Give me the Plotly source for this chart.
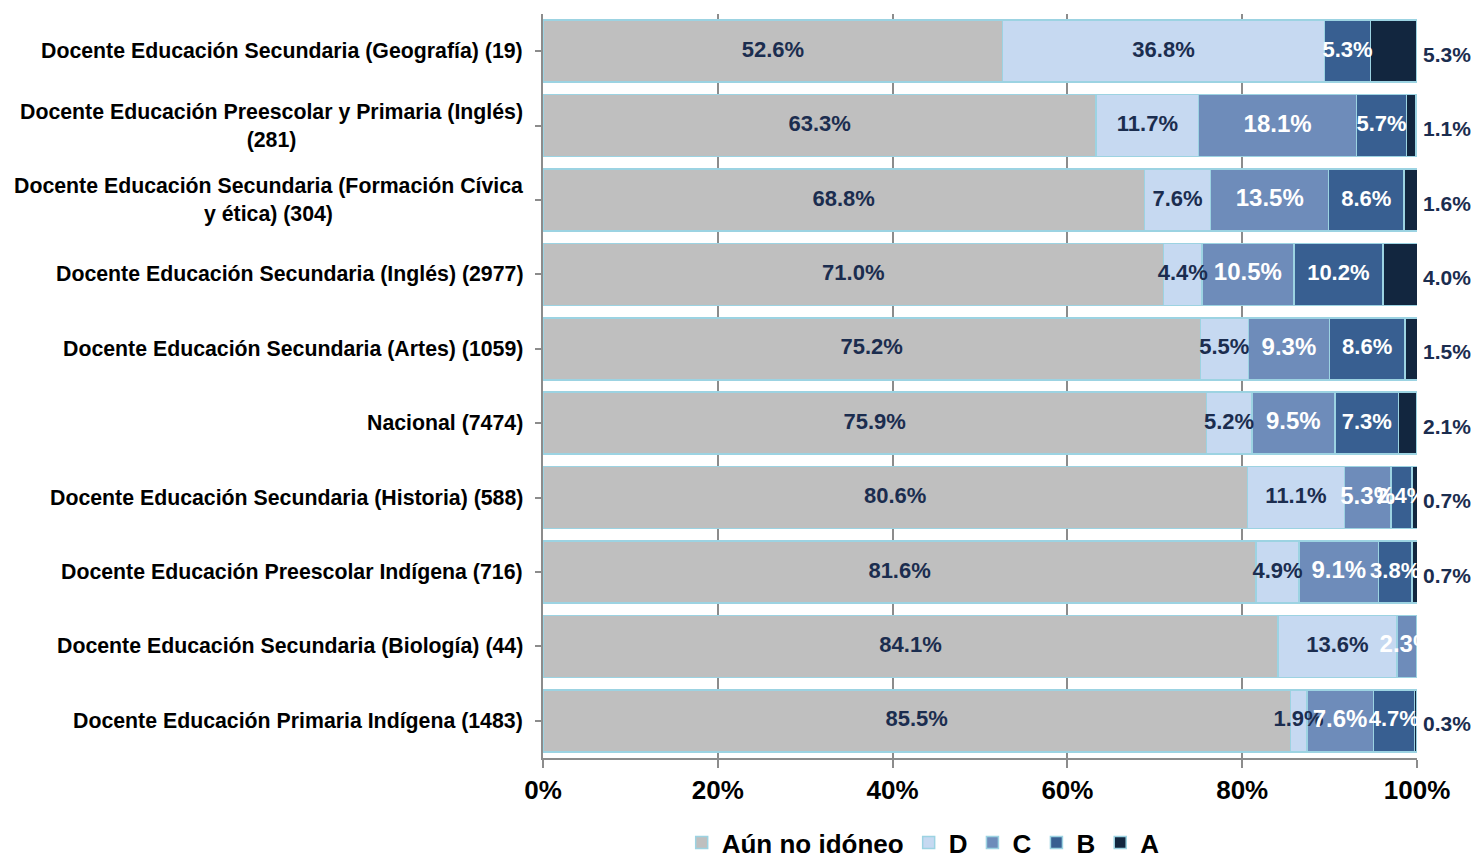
import plotly.graph_objects as go

categories = [
    "Docente Educación Secundaria (Geografía) (19)",
    "Docente Educación Preescolar y Primaria (Inglés)<br>(281)",
    "Docente Educación Secundaria (Formación Cívica<br>y ética) (304)",
    "Docente Educación Secundaria (Inglés) (2977)",
    "Docente Educación Secundaria (Artes) (1059)",
    "Nacional (7474)",
    "Docente Educación Secundaria (Historia) (588)",
    "Docente Educación Preescolar Indígena (716)",
    "Docente Educación Secundaria (Biología) (44)",
    "Docente Educación Primaria Indígena (1483)",
]
aun_no = [52.6, 63.3, 68.8, 71.0, 75.2, 75.9, 80.6, 81.6, 84.1, 85.5]
nivel_d = [36.8, 11.7, 7.6, 4.4, 5.5, 5.2, 11.1, 4.9, 13.6, 1.9]
nivel_c = [0.0, 18.1, 13.5, 10.5, 9.3, 9.5, 5.3, 9.1, 2.3, 7.6]
nivel_b = [5.3, 5.7, 8.6, 10.2, 8.6, 7.3, 2.4, 3.8, 0.0, 4.7]
nivel_a = [5.3, 1.1, 1.6, 4.0, 1.5, 2.1, 0.7, 0.7, 0.0, 0.3]
x_ticks = [0, 20, 40, 60, 80, 100]

FONT = "Liberation Sans, Arial, sans-serif"
DARK = "#1b2d4f"

# name, values, fill colour, label colour, label size
series = [
    ("Aún no idóneo", aun_no, "#bfbfbf", DARK, 22),
    ("D", nivel_d, "#c6d9f1", DARK, 22),
    ("C", nivel_c, "#6e8cba", "#ffffff", 24),
    ("B", nivel_b, "#385f91", "#ffffff", 22),
    ("A", nivel_a, "#12263f", DARK, 22),
]

ids = list(range(len(categories)))
fig = go.Figure()
base = [0.0] * len(categories)
for name, vals, color, tcolor, tsize in series:
    xs = [v if v > 0 else None for v in vals]
    fig.add_trace(go.Bar(
        name=name, y=ids, x=xs, orientation="h",
        marker=dict(color=color, line=dict(color="#9cd3e2", width=1.5)),
        hoverinfo="skip",
    ))
    if name != "A":
        mids = [b + v / 2 for b, v in zip(base, vals)]
        txt = [f"{v:.1f}%" if v > 0 else "" for v in vals]
        fig.add_trace(go.Scatter(
            x=mids, y=ids, mode="text", text=txt, textposition="middle center",
            textfont=dict(family=FONT, size=tsize, color=tcolor, weight="bold"),
            showlegend=False, hoverinfo="skip", cliponaxis=False,
        ))
    base = [b + v for b, v in zip(base, vals)]

# A labels outside, to the right of the 100% edge
for i, v in enumerate(nivel_a):
    if v > 0:
        fig.add_annotation(
            x=1.0, y=i, xref="paper", yref="y", text=f"{v:.1f}%", showarrow=False,
            xanchor="left", xshift=4, yshift=-3,
            font=dict(family=FONT, size=21, color=DARK, weight="bold"),
        )

for i, lab in enumerate(categories):
    fig.add_annotation(
        x=0, xref="paper", y=i, yref="y", text=lab, showarrow=False,
        xanchor="right", xshift=-18, align="center",
        font=dict(family=FONT, size=21.3, color="#000000", weight="bold"),
    )

fig.update_layout(
    barmode="stack",
    bargap=0.167,
    width=1472, height=858,
    margin=dict(l=535, r=63, t=6, b=108),
    paper_bgcolor="white", plot_bgcolor="white",
    legend=dict(
        orientation="h", x=0.435, xanchor="center",
        yref="container", y=0.0, yanchor="bottom",
        font=dict(family=FONT, size=26, color="#000000", weight="bold"),
        traceorder="normal",
    ),
    xaxis=dict(
        range=[0, 100], tickvals=x_ticks,
        ticktext=[f"{t}%" for t in x_ticks],
        showgrid=True, gridcolor="#8c8c8c", gridwidth=2,
        showline=True, linecolor="#8c8c8c", linewidth=2,
        ticks="outside", ticklen=8, tickcolor="#8c8c8c", tickwidth=2,
        ticklabelstandoff=0,
        zeroline=False,
        tickfont=dict(family=FONT, size=26, color="#000000", weight="bold"),
    ),
    yaxis=dict(
        tickvals=ids, showticklabels=False, autorange="reversed",
        showline=True, linecolor="#8c8c8c", linewidth=2,
        ticks="outside", tickson="boundaries", ticklen=6,
        tickcolor="#8c8c8c", tickwidth=2, showgrid=False, zeroline=False,
    ),
)

fig.write_html("out.html")
